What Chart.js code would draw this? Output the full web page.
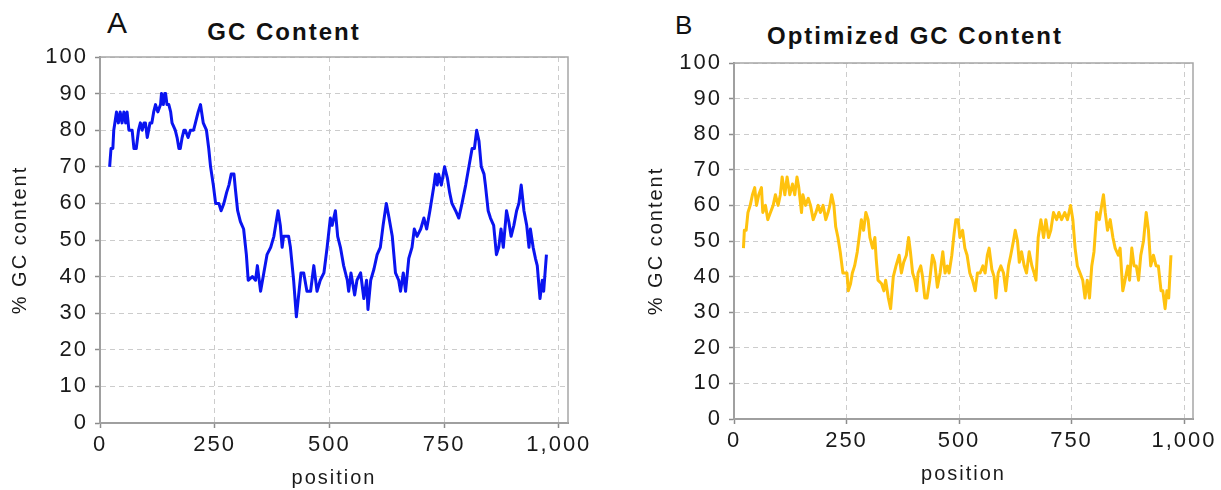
<!DOCTYPE html>
<html>
<head>
<meta charset="utf-8">
<script src="https://cdn.jsdelivr.net/npm/chart.js@4"></script>
<style>
  body { margin: 0; background: #fff; width: 1221px; height: 490px; position: relative; overflow: hidden; font-family: "Liberation Sans", Arial, sans-serif; }
  canvas { position: absolute; top: 0; }
  .title { position: absolute; width: 400px; text-align: center; font-weight: bold; font-size: 24px; line-height: 24px; letter-spacing: 2px; color: #111; }
  .tag { position: absolute; color: #111; }
</style>
</head>
<body>
<div class="tag" style="left:107px;top:8px;font-size:30px;line-height:30px;">A</div>
<div class="title" style="left:84px;top:20px;">GC Content</div>
<canvas id="chartA" width="600" height="490" style="left:0"></canvas>

<div class="tag" style="left:675px;top:12px;font-size:26px;line-height:26px;">B</div>
<div class="title" style="left:715px;top:24px;">Optimized GC Content</div>
<canvas id="chartB" width="611" height="490" style="left:610px"></canvas>

<script>
// sliding-window GC content
const posA = [21,24,28,30,36,40,44,48,52,56,59,63,70,74,79,84,88,92,96,99,103,109,113,117,121,126,132,134,138,141,143,146,150,154,157,164,168,172,175,179,183,186,192,197,204,208,214,219,225,232,237,241,247,252,259,264,270,276,281,286,292,295,300,306,313,319,323,332,339,343,350,357,364,372,379,388,393,397,400,411,415,422,428,433,438,444,451,459,466,473,480,488,495,502,506,513,518,524,531,539,542,547,555,560,568,575,581,584,590,597,604,611,617,624,630,637,644,651,655,661,666,673,680,685,691,699,706,712,719,728,731,735,738,744,751,757,762,767,775,782,789,797,804,811,816,821,826,831,837,840,846,851,858,864,869,874,879,886,891,896,902,908,913,918,924,930,935,938,944,949,953,959,964,967,973];
const gcA = [70,75,75,80,85,82,85,82,85,82,85,80,80,75,75,80,82,80,82,82,78,82,82,85,87,85,87,90,87,90,90,87,87,85,82,80,78,75,75,78,80,80,78,80,80,82,85,87,82,80,75,70,65,60,60,58,60,63,65,68,68,64,58,55,53,46,39,40,39,43,36,41,46,48,51,58,54,48,51,51,48,39,29,35,41,41,36,36,43,36,39,41,48,56,54,58,51,48,43,39,36,41,35,39,41,34,39,31,39,42,46,48,54,60,56,51,41,39,36,41,36,45,48,53,51,53,56,53,58,65,68,65,68,65,70,67,63,60,58,56,60,65,70,75,75,80,77,70,68,65,58,56,54,46,48,53,48,58,55,51,54,58,60,65,58,54,48,53,48,45,43,34,39,36,46];

const posB = [21,23,27,31,36,41,46,50,55,61,64,70,75,81,87,92,98,103,107,113,118,124,130,135,140,144,150,153,159,165,170,176,182,187,192,198,204,209,213,217,222,226,231,236,242,251,254,259,263,268,274,278,283,288,293,298,302,308,313,316,320,328,333,337,343,348,354,360,367,372,377,383,388,392,397,402,406,409,415,419,424,429,435,441,446,452,458,464,469,474,478,484,489,493,498,502,508,513,518,524,530,536,541,547,553,558,563,567,573,578,582,587,593,599,604,610,615,621,625,630,634,639,645,650,656,662,667,671,676,682,688,693,699,704,710,717,722,728,735,741,748,753,758,763,769,775,780,785,790,795,800,806,812,817,821,825,830,836,842,847,854,858,864,869,875,879,884,889,894,899,904,910,916,921,926,932,938,943,949,953,958,962,966,971];
const gcB = [48,53,53,58,60,63,65,60,63,65,58,60,56,58,60,63,60,63,68,63,68,63,66,63,68,65,58,63,60,62,60,56,58,60,58,60,56,58,60,63,60,54,51,47,41,41,36,38,41,43,47,51,56,53,58,56,51,48,51,45,39,38,36,39,34,31,40,43,46,41,44,46,51,47,41,39,36,41,43,40,34,34,39,46,44,37,41,47,41,43,41,46,52,56,56,51,53,48,46,41,39,36,41,41,43,41,46,48,42,40,34,41,43,41,36,43,46,50,53,50,44,47,43,41,47,43,41,39,51,56,51,56,51,53,58,56,58,56,58,56,60,56,48,43,41,39,34,39,34,43,47,58,56,60,63,58,53,56,51,48,46,48,36,39,43,39,48,43,43,39,46,50,58,53,43,46,43,43,36,36,31,36,34,46];

const xTicks = [0, 250, 500, 750, 1000];
const yTicks = [0, 10, 20, 30, 40, 50, 60, 70, 80, 90, 100];

const FONT = '"Liberation Sans", Arial, sans-serif';

// grey frame round the plot area + letter spacing for all canvas text
const framePlugin = {
  id: 'frame',
  beforeDraw(chart) {
    chart.ctx.letterSpacing = '2px';
  },
  beforeDatasetsDraw(chart) {
    const { ctx, chartArea: a } = chart;
    ctx.save();
    ctx.strokeStyle = '#a6a6a6';
    ctx.lineWidth = 1.5;
    ctx.strokeRect(a.left, a.top, a.right - a.left, a.bottom - a.top);
    ctx.restore();
  }
};

function makeChart(id, xs, ys, color, pad, xHeight, titlePad) {
  const ctx = document.getElementById(id).getContext('2d');
  return new Chart(ctx, {
    type: 'line',
    data: {
      datasets: [{
        data: xs.map((x, i) => ({ x: x, y: ys[i] })),
        borderColor: color,
        borderWidth: 3,
        borderJoinStyle: 'round',
        pointRadius: 0,
        tension: 0,
        fill: false
      }]
    },
    options: {
      responsive: false,
      animation: false,
      layout: { padding: pad },
      plugins: {
        legend: { display: false },
        tooltip: { enabled: false }
      },
      scales: {
        x: {
          type: 'linear',
          min: 0,
          max: 1020,
          afterBuildTicks: s => { s.ticks = xTicks.map(v => ({ value: v })); },
          afterFit: s => { s.height = xHeight; },
          grid: { color: '#cccccc', lineWidth: 1, tickLength: 5, tickColor: '#8c8c8c', tickWidth: 1.5 },
          border: { color: '#8c8c8c', width: 2, dash: [5, 4] },
          ticks: { color: '#1a1a1a', padding: 4, maxRotation: 0, font: { family: FONT, size: 22 } },
          title: { display: true, text: 'position', color: '#1a1a1a', padding: { top: 0, bottom: titlePad.x }, font: { family: FONT, size: 20 } }
        },
        y: {
          min: 0,
          max: 100,
          afterBuildTicks: s => { s.ticks = yTicks.map(v => ({ value: v })); },
          afterFit: s => { s.width = 100; },
          grid: { color: '#cccccc', lineWidth: 1, tickLength: 5, tickColor: '#8c8c8c', tickWidth: 1.5 },
          border: { color: '#8c8c8c', width: 2, dash: [5, 4] },
          ticks: { color: '#1a1a1a', padding: 7, font: { family: FONT, size: 22 } },
          title: { display: true, text: '% GC content', color: '#1a1a1a', padding: { top: titlePad.y, bottom: 0 }, font: { family: FONT, size: 20 } }
        }
      }
    },
    plugins: [framePlugin]
  });
}

makeChart('chartA', posA, gcA, '#0a14f0', { left: 0, right: 32, top: 57, bottom: 0 }, 67, { x: 0, y: 8 });
makeChart('chartB', posB, gcB, '#ffc20e', { left: 24, right: 28, top: 63, bottom: 0 }, 71, { x: 4, y: 10 });
</script>
</body>
</html>
